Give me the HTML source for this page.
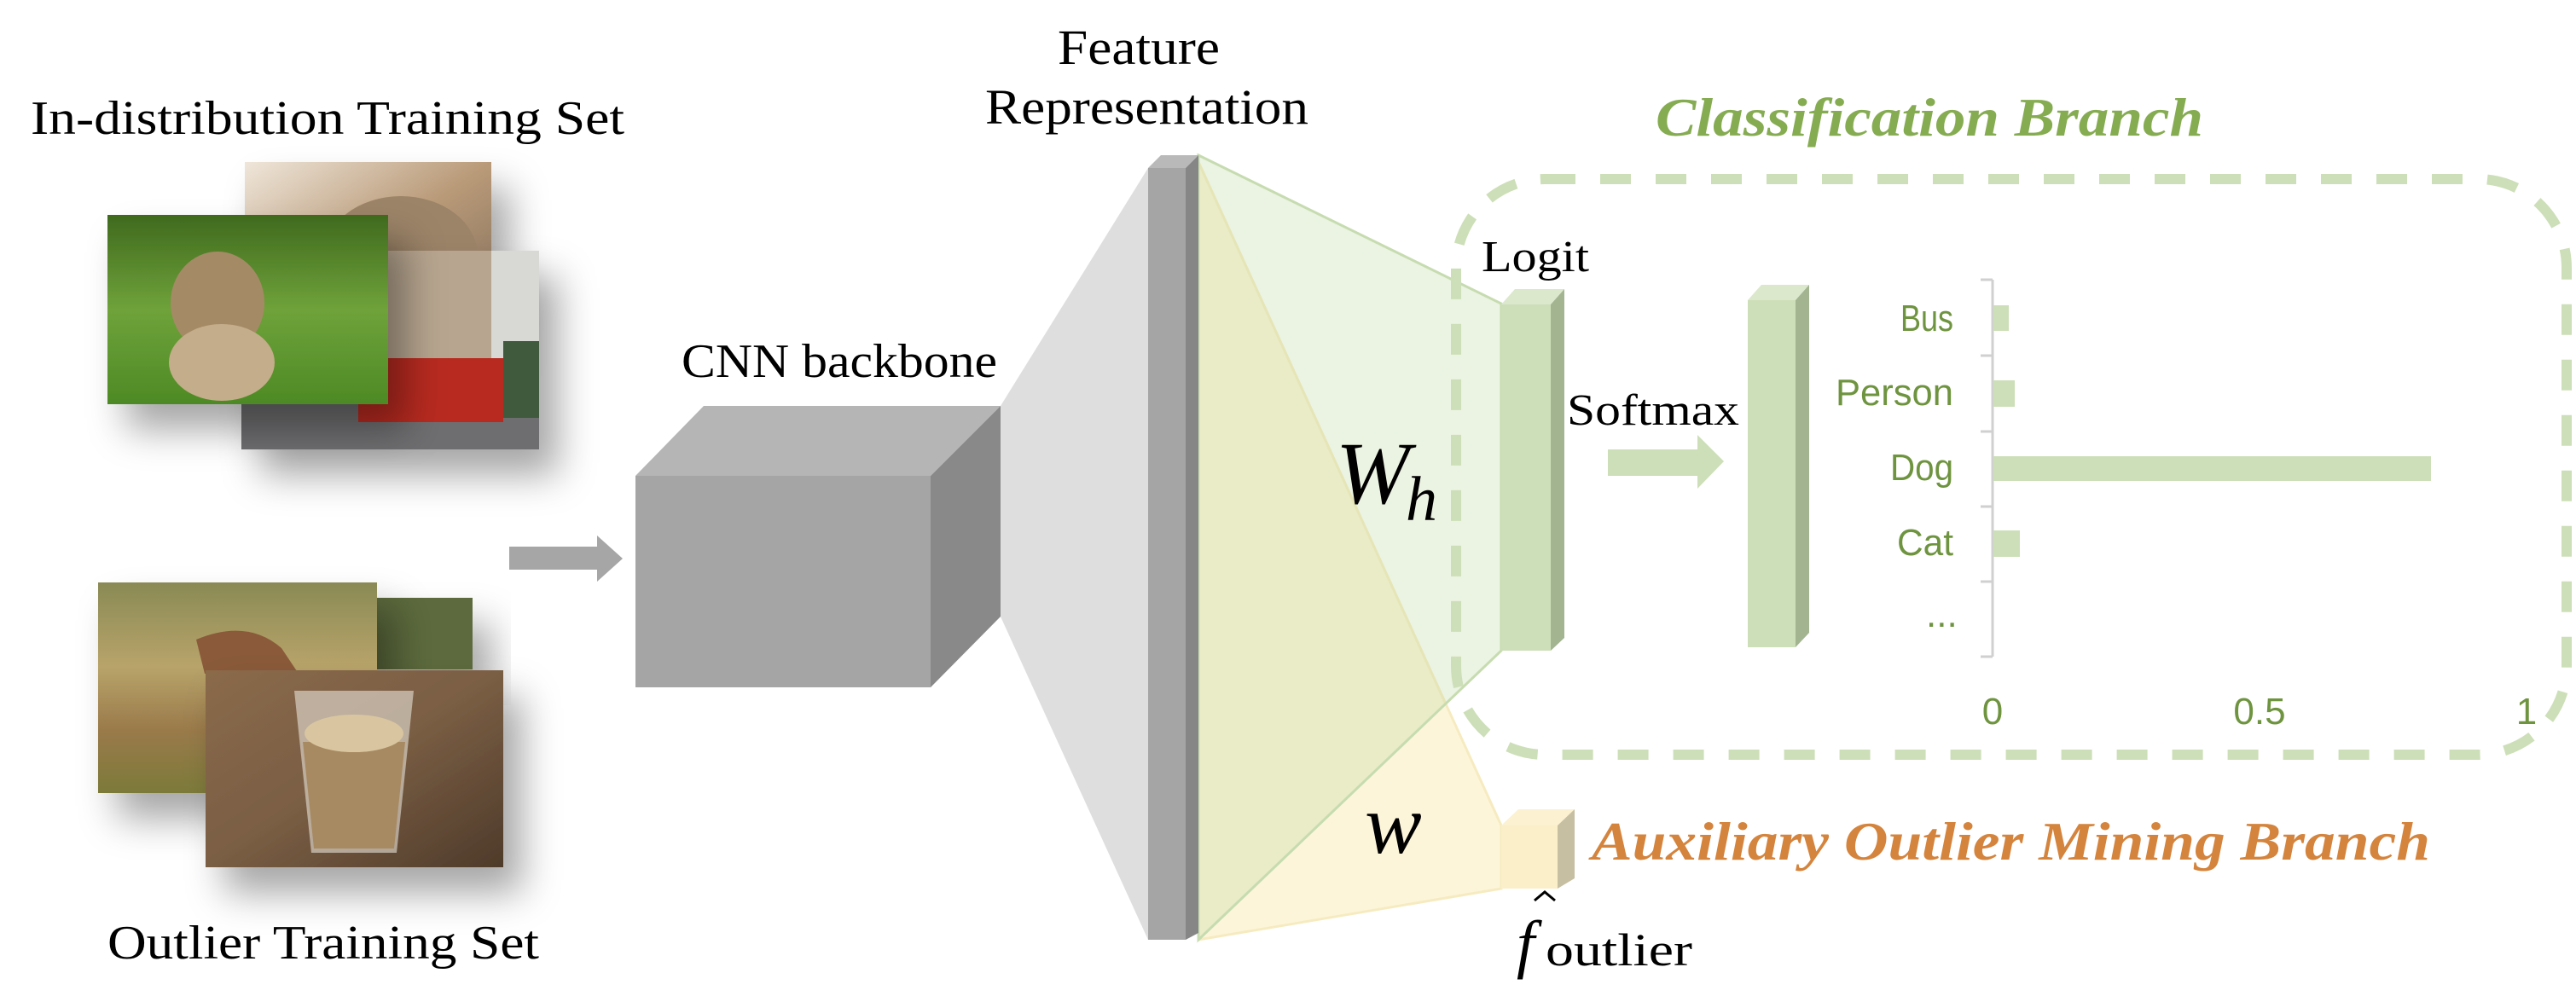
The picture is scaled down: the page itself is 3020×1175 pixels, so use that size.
<!DOCTYPE html>
<html><head><meta charset="utf-8"><style>
html,body{margin:0;padding:0;background:#fff;}
svg{display:block;}
text{font-family:"Liberation Serif",serif;}
.s{font-family:"Liberation Sans",sans-serif;fill:#6f9440;}
</style></head><body>
<svg width="3020" height="1175" viewBox="0 0 3020 1175" xmlns="http://www.w3.org/2000/svg">
<defs>
<filter id="sh" x="-30%" y="-30%" width="170%" height="180%">
<feDropShadow dx="22" dy="30" stdDeviation="22" flood-color="#000" flood-opacity="0.35"/>
</filter>
<linearGradient id="grass" x1="0" y1="0" x2="0" y2="1">
<stop offset="0" stop-color="#3f6a1e"/><stop offset="0.5" stop-color="#6fa23a"/><stop offset="1" stop-color="#4d8a25"/></linearGradient>
<linearGradient id="cat" x1="0" y1="0" x2="1" y2="1">
<stop offset="0" stop-color="#efe6da"/><stop offset="0.5" stop-color="#b99a78"/><stop offset="1" stop-color="#7d6a58"/></linearGradient>
<linearGradient id="kang" x1="0" y1="0" x2="0" y2="1">
<stop offset="0" stop-color="#8a8a55"/><stop offset="0.4" stop-color="#b8a46a"/><stop offset="0.7" stop-color="#9a7a4a"/><stop offset="1" stop-color="#7c7a3a"/></linearGradient>
<linearGradient id="wood" x1="0" y1="0" x2="1" y2="1">
<stop offset="0" stop-color="#8a6a4a"/><stop offset="0.5" stop-color="#7a5e44"/><stop offset="1" stop-color="#4e3a2a"/></linearGradient>
</defs>

<text x="36" y="157" font-size="56" textLength="696" lengthAdjust="spacingAndGlyphs">In-distribution Training Set</text>
<text x="126" y="1124" font-size="56" textLength="506" lengthAdjust="spacingAndGlyphs">Outlier Training Set</text>
<text x="1240" y="75" font-size="58" textLength="190" lengthAdjust="spacingAndGlyphs">Feature</text>
<text x="1155" y="145" font-size="58" textLength="379" lengthAdjust="spacingAndGlyphs">Representation</text>
<text x="799" y="442" font-size="56" textLength="370" lengthAdjust="spacingAndGlyphs">CNN backbone</text>

<g filter="url(#sh)">
<rect x="287" y="190" width="289" height="200" fill="url(#cat)"/>
</g>
<ellipse cx="470" cy="300" rx="90" ry="70" fill="#9c8468"/>
<g filter="url(#sh)">
<rect x="283" y="294" width="349" height="233" fill="#6e6e70"/>
</g>
<rect x="283" y="294" width="349" height="130" fill="#b7a58f"/>
<rect x="576" y="294" width="56" height="130" fill="#d8d8d4"/>
<rect x="420" y="420" width="170" height="75" fill="#b82a20"/>
<rect x="590" y="400" width="42" height="90" fill="#3f5a3c"/>
<g filter="url(#sh)">
<rect x="126" y="252" width="329" height="222" fill="url(#grass)"/>
</g>
<ellipse cx="255" cy="355" rx="55" ry="60" fill="#a58a66"/>
<ellipse cx="260" cy="425" rx="62" ry="45" fill="#c4ad8a"/>

<g filter="url(#sh)">
<rect x="442" y="701" width="112" height="84" fill="#5c6a3c"/>
</g>
<g filter="url(#sh)">
<rect x="115" y="683" width="327" height="247" fill="url(#kang)"/>
</g>
<path d="M230 750 Q290 725 330 760 L350 790 L240 790 Z" fill="#8a5a3a"/>
<g filter="url(#sh)">
<rect x="241" y="786" width="349" height="231" fill="url(#wood)"/>
</g>
<path d="M345 810 L485 810 L465 1000 L365 1000 Z" fill="#e8e2d8" opacity="0.6"/>
<path d="M355 870 L475 870 L462 995 L368 995 Z" fill="#a88a62"/>
<ellipse cx="415" cy="860" rx="58" ry="22" fill="#d9c6a0"/>

<path d="M597 641 L700 641 L700 628 L730 655 L700 682 L700 668 L597 668 Z" fill="#a6a6a6"/>

<polygon points="745,558 825,476 1173,476 1091,558" fill="#b5b5b5"/>
<polygon points="1091,558 1173,476 1173,723 1091,806" fill="#898989"/>
<rect x="745" y="558" width="346" height="248" fill="#a5a5a5"/>

<polygon points="1173,476 1346,197 1346,1102 1173,723" fill="#dedede"/>

<polygon points="1405,190 1760,968 1760,1042 1405,1102" fill="rgba(250,230,160,0.4)" stroke="#f6ebc0" stroke-width="3"/>
<polygon points="1405,182 1760,356 1760,763 1405,1102" fill="rgba(190,215,160,0.3)" stroke="#c6dcb0" stroke-width="3"/>

<polygon points="1346,197 1361,182 1405,182 1390,197" fill="#b9b9b9"/>
<rect x="1346" y="197" width="44" height="905" fill="#a5a5a5"/>
<polygon points="1390,197 1405,182 1405,1094 1390,1102" fill="#868686"/>

<rect x="1707" y="210" width="1302" height="675" rx="104" ry="104" fill="none" stroke="#cddfb8" stroke-width="12" stroke-dasharray="36 29"/>

<text x="1941" y="159" font-size="64" font-weight="bold" font-style="italic" fill="#86ac52" textLength="642" lengthAdjust="spacingAndGlyphs">Classification Branch</text>
<text x="1866" y="1008" font-size="64" font-weight="bold" font-style="italic" fill="#d4843d" textLength="983" lengthAdjust="spacingAndGlyphs">Auxiliary Outlier Mining Branch</text>

<polygon points="1760,357 1776,339 1834,339 1818,357" fill="#dbe8cc"/>
<rect x="1760" y="357" width="58" height="406" fill="#cddfb8"/>
<polygon points="1818,357 1834,339 1834,748 1818,763" fill="#a2b590"/>
<text x="1737" y="318" font-size="52" textLength="126" lengthAdjust="spacingAndGlyphs">Logit</text>
<text x="1837" y="498" font-size="52" textLength="202" lengthAdjust="spacingAndGlyphs">Softmax</text>
<path d="M1885 527 L1990 527 L1990 510 L2021 541 L1990 573 L1990 558 L1885 558 Z" fill="#cddfb8"/>

<polygon points="2049,352 2065,334 2121,334 2105,352" fill="#dbe8cc"/>
<rect x="2049" y="352" width="56" height="407" fill="#cddfb8"/>
<polygon points="2105,352 2121,334 2121,742 2105,759" fill="#a2b590"/>

<g stroke="#d0d0d0" stroke-width="3">
<line x1="2336" y1="328" x2="2336" y2="770"/>
<line x1="2322" y1="328" x2="2336" y2="328"/>
<line x1="2322" y1="417" x2="2336" y2="417"/>
<line x1="2322" y1="506" x2="2336" y2="506"/>
<line x1="2322" y1="594" x2="2336" y2="594"/>
<line x1="2322" y1="682" x2="2336" y2="682"/>
<line x1="2322" y1="770" x2="2336" y2="770"/>
</g>
<rect x="2337" y="358" width="18" height="30" fill="#cddfb8"/>
<rect x="2337" y="446" width="25" height="31" fill="#cddfb8"/>
<rect x="2337" y="535" width="513" height="29" fill="#cddfb8"/>
<rect x="2337" y="622" width="31" height="31" fill="#cddfb8"/>
<text class="s" x="2228" y="388" font-size="44" textLength="62" lengthAdjust="spacingAndGlyphs">Bus</text>
<text class="s" x="2152" y="475" font-size="44" textLength="138" lengthAdjust="spacingAndGlyphs">Person</text>
<text class="s" x="2216" y="563" font-size="44" textLength="74" lengthAdjust="spacingAndGlyphs">Dog</text>
<text class="s" x="2224" y="651" font-size="44" textLength="66" lengthAdjust="spacingAndGlyphs">Cat</text>
<text class="s" x="2258" y="735" font-size="44">...</text>
<g font-size="44" text-anchor="middle">
<text class="s" x="2336" y="849">0</text>
<text class="s" x="2649" y="849">0.5</text>
<text class="s" x="2962" y="849">1</text>
</g>

<polygon points="1760,968 1780,949 1846,949 1826,968" fill="#fcf1d0"/>
<rect x="1760" y="968" width="66" height="74" fill="#fbefca"/>
<polygon points="1826,968 1846,949 1846,1030 1826,1042" fill="#c7bfa2"/>

<text x="1566" y="590" font-size="104" font-style="italic">W</text>
<text x="1648" y="610" font-size="74" font-style="italic">h</text>
<text x="1600" y="1000" font-size="100" font-style="italic">w</text>
<text x="1778" y="1132" font-size="76" font-style="italic">f</text>
<path d="M1799 1056 L1811 1046 L1823 1056" fill="none" stroke="#000" stroke-width="3"/>
<text x="1812" y="1132" font-size="54" textLength="172" lengthAdjust="spacingAndGlyphs">outlier</text>
</svg>
</body></html>
